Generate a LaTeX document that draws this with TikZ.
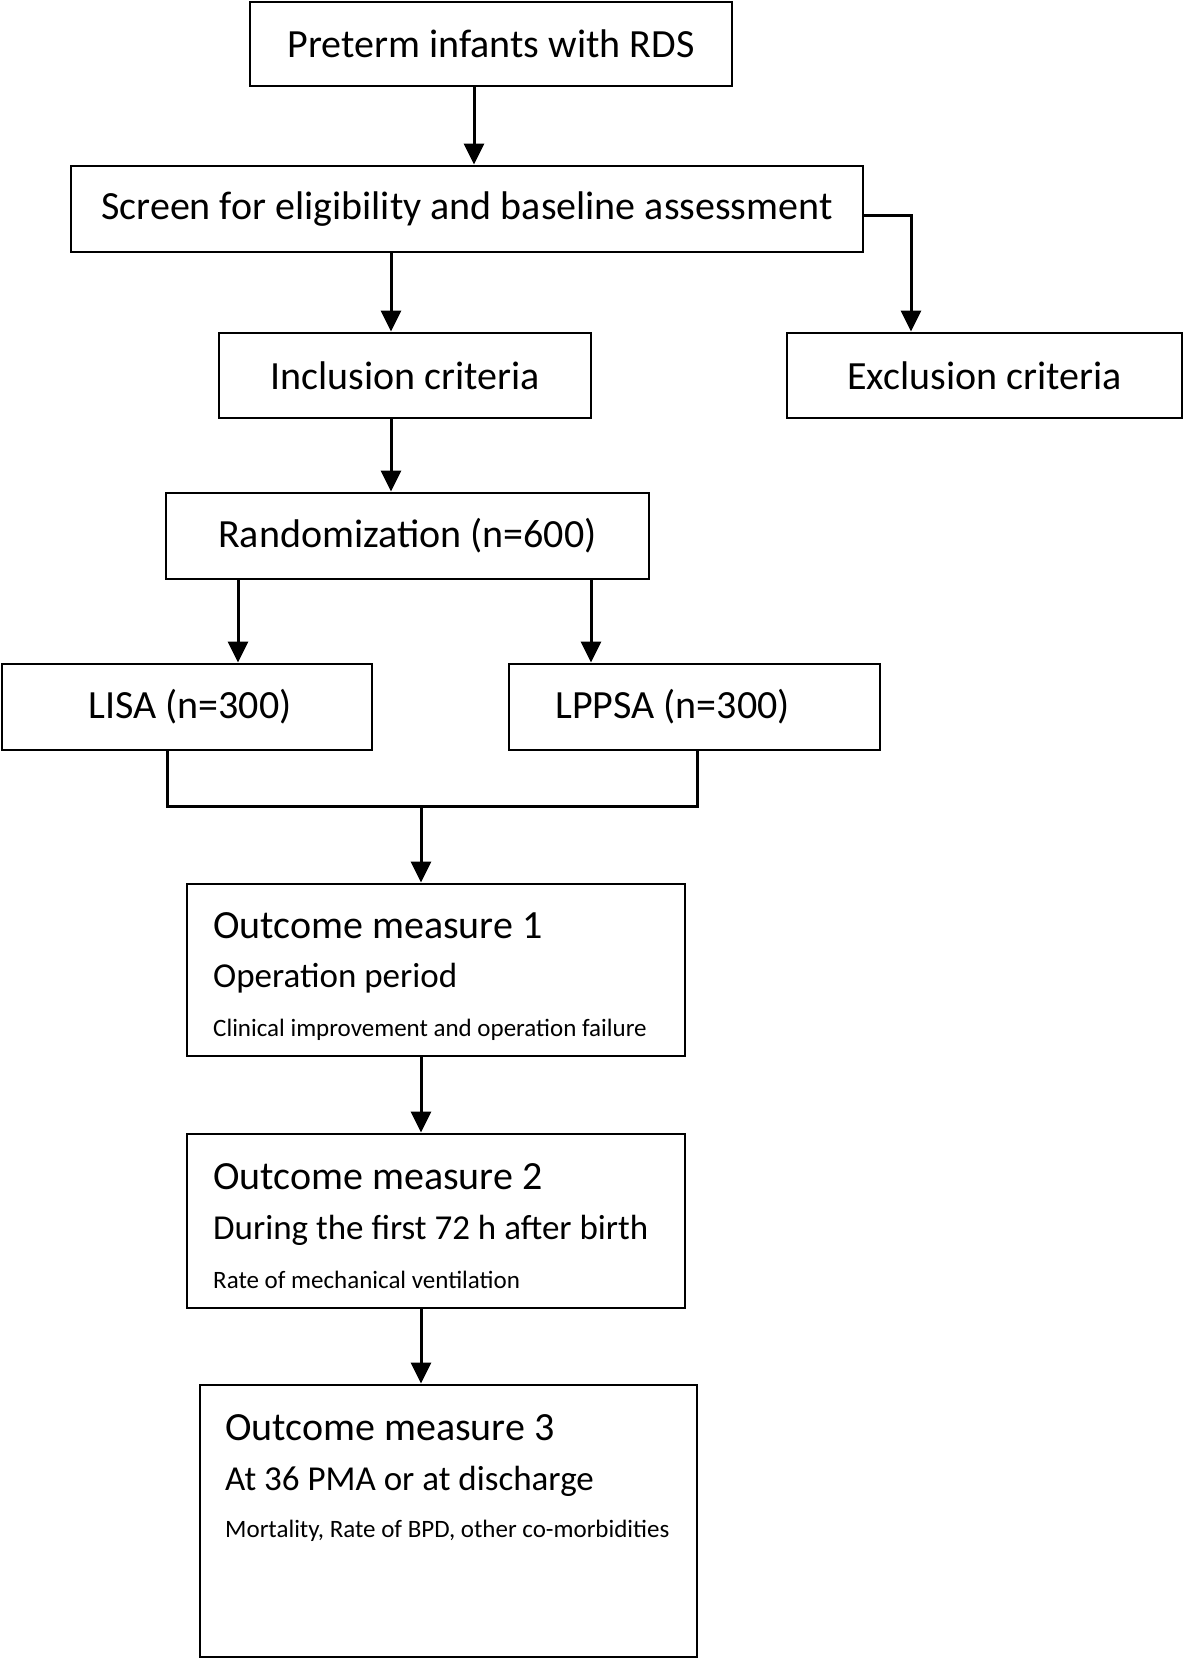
\documentclass[tikz,border=0pt]{standalone}
\usepackage{fontspec}
\setmainfont{Carlito}
\usetikzlibrary{arrows.meta}
\begin{document}
\begin{tikzpicture}[x=1pt,y=-1pt,
  box/.style={draw=black,line width=2.9pt,rectangle,inner sep=0pt,font=\fontsize{40}{44}\selectfont},
  conn/.style={line width=3pt},
  arr/.style={line width=3pt,-{Triangle[length=21pt,width=20pt]}},
  ttl/.style={anchor=base west,inner sep=0pt,font=\fontsize{40}{44}\selectfont},
  sub/.style={anchor=base west,inner sep=0pt,font=\fontsize{35}{40}\selectfont},
  det/.style={anchor=base west,inner sep=0pt,font=\fontsize{25}{29}\selectfont}]
\useasboundingbox[fill=white] (0,0) rectangle (1184,1659);
% boxes
\node[box,minimum width=482pt,minimum height=84pt] (pre) at (491,44) {Preterm infants with RDS};
\node[box,minimum width=792pt,minimum height=86pt] (scr) at (467,209) {Screen for eligibility and baseline assessment};
\node[box,minimum width=372pt,minimum height=85pt] (inc) at (405,375.5) {Inclusion criteria};
\node[box,minimum width=395pt,minimum height=85pt] (exc) at (984.5,375.5) {Exclusion criteria};
\node[box,minimum width=483pt,minimum height=86pt] (ran) at (407.5,536) {Randomization (n=600)};
\node[box,minimum width=370pt,minimum height=86pt] (lisa) at (187,707) {\hspace*{6pt}LISA (n=300)};
\node[box,minimum width=371pt,minimum height=86pt] (lppsa) at (694.5,707) {LPPSA (n=300)\hspace*{44pt}};
\node[box,minimum width=498pt,minimum height=172pt] (om1) at (436,970) {};
\node[box,minimum width=498pt,minimum height=174pt] (om2) at (436,1221) {};
\node[box,minimum width=497pt,minimum height=272pt] (om3) at (448.5,1521) {};
% outcome texts
\node[ttl] (om1a) at (213,938) {Outcome measure 1};
\node[sub] (om1b) at (213,987) {Operation period};
\node[det] (om1c) at (213,1036) {Clinical improvement and operation failure};
\node[ttl] (om2a) at (213,1189) {Outcome measure 2};
\node[sub] (om2b) at (213,1239) {During the first 72 h after birth};
\node[det] (om2c) at (213,1288) {Rate of mechanical ventilation};
\node[ttl] (om3a) at (225,1440) {Outcome measure 3};
\node[sub] (om3b) at (225,1490) {At 36 PMA or at discharge};
\node[det] (om3c) at (225,1537) {Mortality, Rate of BPD, other co-morbidities};
% connectors
\draw[arr] (pre.south -| 474,0) -- (scr.north -| 474,0);
\draw[arr] (scr.south -| 391,0) -- (inc.north -| 391,0);
\draw[arr] ([yshift=-6pt]scr.east) -| ([xshift=-73.5pt]exc.north);
\draw[arr] (inc.south -| 391,0) -- (ran.north -| 391,0);
\draw[arr] (ran.south -| 238,0) -- (lisa.north -| 238,0);
\draw[arr] (ran.south -| 591,0) -- (lppsa.north -| 591,0);
\coordinate (mid) at (421,806);
\draw[conn] (lisa.south -| 167,0) |- (mid) -| (lppsa.south -| 697,0);
\draw[arr] (mid) -- (om1.north -| mid);
\draw[arr] (om1.south -| mid) -- (om2.north -| mid);
\draw[arr] (om2.south -| mid) -- (om3.north -| mid);
\end{tikzpicture}
\end{document}
